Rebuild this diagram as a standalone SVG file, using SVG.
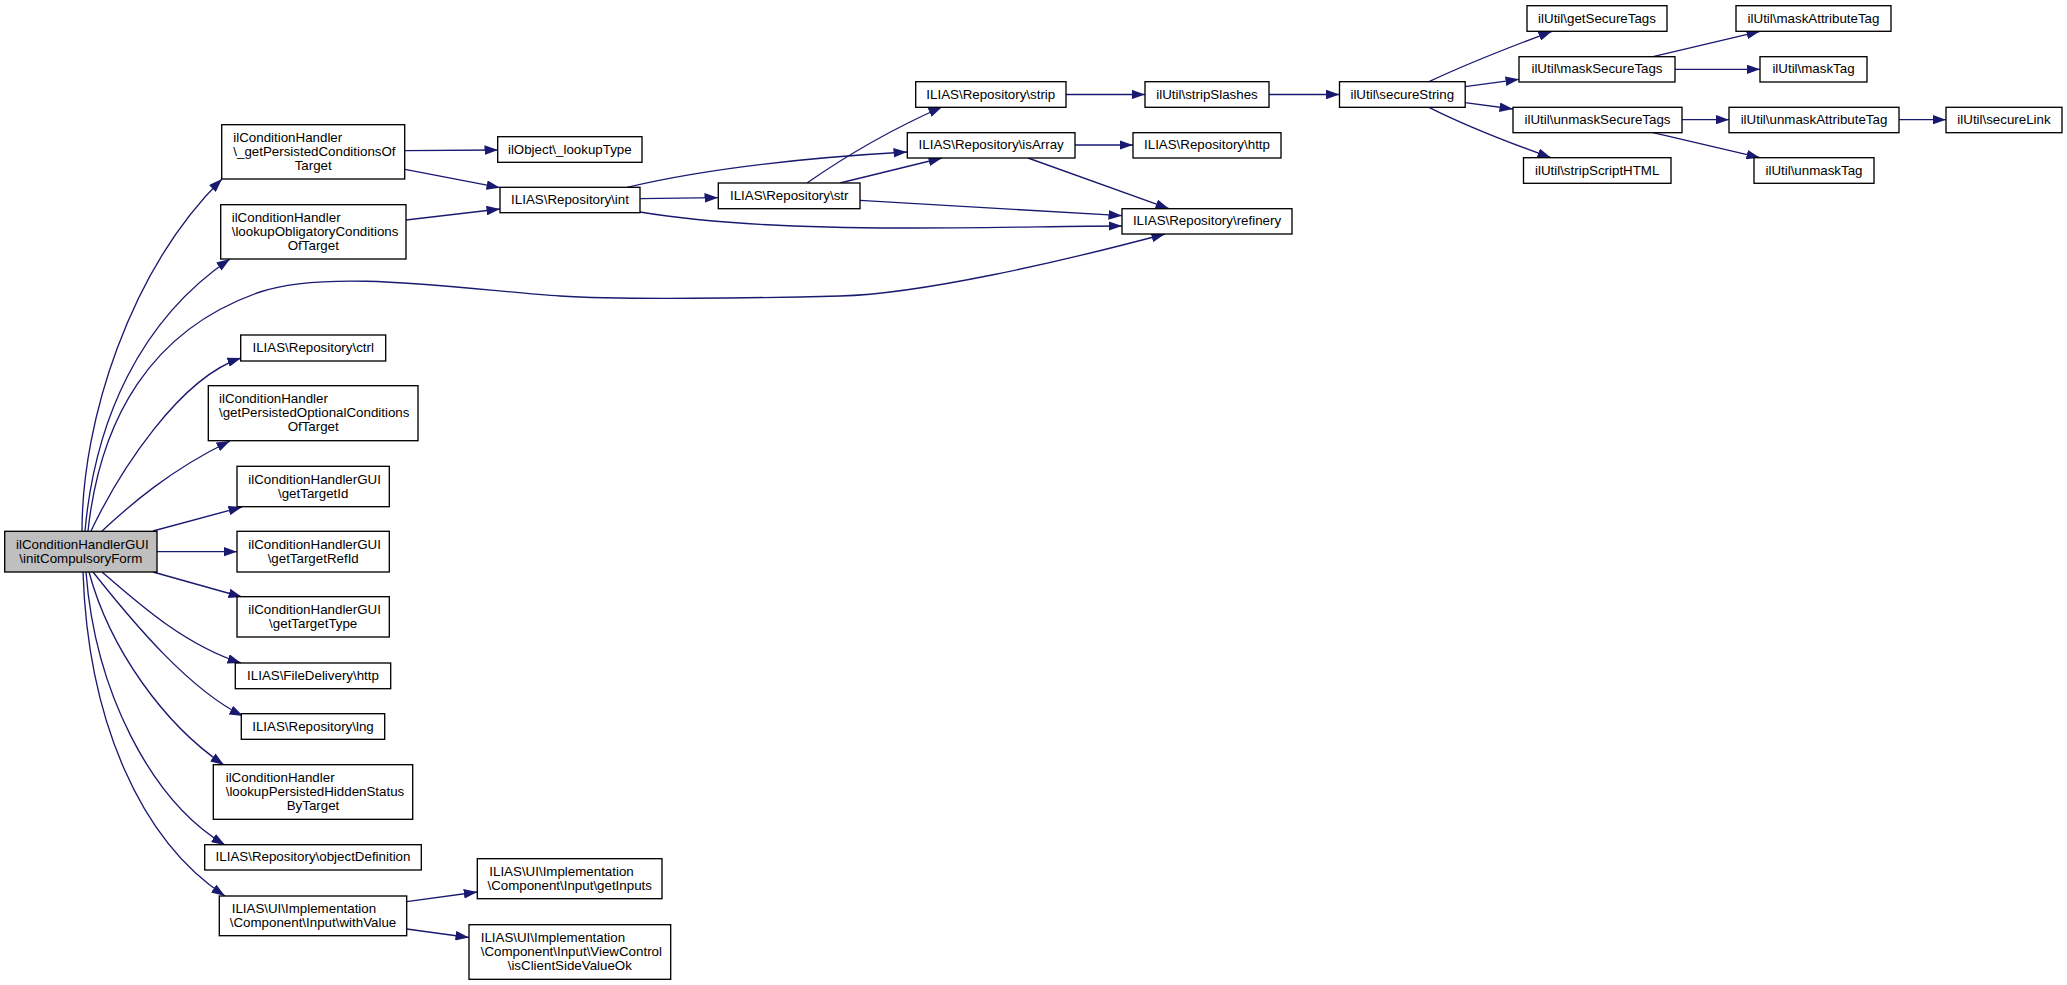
<svg xmlns="http://www.w3.org/2000/svg" width="2067" height="985" viewBox="0 0 2067 985">
<style>
.n rect{fill:#ffffff;stroke:#000000;stroke-width:1.33}
.n.main rect{fill:#bfbfbf}
.n text{font-family:"Liberation Sans",Arial,Helvetica,sans-serif;font-size:13.33px;fill:#000000}
.c{text-anchor:middle}
#edges path{fill:none;stroke:#191970;stroke-width:1.33;marker-end:url(#ah)}
</style>
<defs>
<marker id="ah" viewBox="0 0 13.5 9.6" refX="13.5" refY="4.8" markerWidth="13.5" markerHeight="9.6" markerUnits="userSpaceOnUse" orient="auto">
<path d="M0,0 L13.5,4.8 L0,9.6 z" fill="#191970"/>
</marker>
</defs>
<rect width="2067" height="985" fill="#ffffff"/>
<g id="edges">
<path d="M82,531 C82,420 130,270 222,179"/>
<path d="M85,531 C95,420 140,320 230,259"/>
<path d="M88,531 C100,420 150,330 260,292 C330,268 470,290 560,296 C620,300 760,298 840,296 C920,294 1060,262 1165,234"/>
<path d="M91,531 C120,470 180,378 241,358"/>
<path d="M102,531 C130,505 170,470 230,441"/>
<path d="M153,531 L242,507"/>
<path d="M157,551.7 L237,551.7"/>
<path d="M153,572 L242,597"/>
<path d="M102,572 C140,605 185,645 241,663"/>
<path d="M93,572 C135,625 190,690 243,716"/>
<path d="M89,572 C110,650 165,725 224,765"/>
<path d="M86,572 C95,690 150,800 225,845"/>
<path d="M83,572 C88,720 140,840 225,896"/>
<path d="M405,150.7 L498,150"/>
<path d="M405,169.3 L500,187.7"/>
<path d="M406,220 L500,209"/>
<path d="M627,187.3 C700,170 800,158 907,152"/>
<path d="M640,198.7 L718,197.7"/>
<path d="M640,212 C700,222 780,228 900,228 C1000,228 1060,226 1122,226"/>
<path d="M807,183 C840,160 890,130 942,107"/>
<path d="M840,183 L942,158"/>
<path d="M860,200.3 L1122,215.7"/>
<path d="M1066,94.5 L1145,94.5"/>
<path d="M1269,94.5 L1339.5,94.5"/>
<path d="M1075,145 L1133,145"/>
<path d="M1028,158 L1169,208.7"/>
<path d="M1429,81.7 C1460,67 1510,47 1552,31.3"/>
<path d="M1465,86.7 L1519,79.3"/>
<path d="M1465,102.7 L1513,109"/>
<path d="M1429,107.3 C1460,123 1510,143 1551,157.7"/>
<path d="M1653,56.7 L1760,31.3"/>
<path d="M1675,69.3 L1760,69.3"/>
<path d="M1682,119.7 L1729,119.7"/>
<path d="M1653,132.7 L1760,157.7"/>
<path d="M1899,119.7 L1946,119.7"/>
<path d="M406.7,901.7 L477.3,892"/>
<path d="M406.7,929 L469,937.5"/>
</g>
<g id="n_main" class="n main"><rect x="4.7" y="531.3" width="152.3" height="40.7"/><text x="16" y="548.7">ilConditionHandlerGUI</text><text class="c" x="80.8" y="562.7">\initCompulsoryForm</text></g>
<g id="n_getPersistedConditions" class="n"><rect x="221.7" y="124.7" width="183" height="54.3"/><text x="233.3" y="142">ilConditionHandler</text><text x="233.3" y="156">\_getPersistedConditionsOf</text><text class="c" x="313.2" y="170">Target</text></g>
<g id="n_lookupObligatory" class="n"><rect x="220.7" y="204.7" width="185.3" height="54.3"/><text x="231.7" y="222">ilConditionHandler</text><text x="231.7" y="236">\lookupObligatoryConditions</text><text class="c" x="313.3" y="250">OfTarget</text></g>
<g id="n_ctrl" class="n"><rect x="240.7" y="335" width="145" height="26"/><text class="c" x="313.2" y="352">ILIAS\Repository\ctrl</text></g>
<g id="n_getPersistedOptional" class="n"><rect x="208.3" y="385.7" width="209.7" height="55"/><text x="219" y="403.2">ilConditionHandler</text><text x="219" y="417.2">\getPersistedOptionalConditions</text><text class="c" x="313.2" y="431.2">OfTarget</text></g>
<g id="n_getTargetId" class="n"><rect x="237" y="466.3" width="152.3" height="40.4"/><text x="248.3" y="483.5">ilConditionHandlerGUI</text><text class="c" x="313.2" y="497.5">\getTargetId</text></g>
<g id="n_getTargetRefId" class="n"><rect x="237" y="531.3" width="152.3" height="40.7"/><text x="248.3" y="548.7">ilConditionHandlerGUI</text><text class="c" x="313.2" y="562.7">\getTargetRefId</text></g>
<g id="n_getTargetType" class="n"><rect x="237" y="596.7" width="152.3" height="40.3"/><text x="248.3" y="613.8">ilConditionHandlerGUI</text><text class="c" x="313.2" y="627.8">\getTargetType</text></g>
<g id="n_fileDeliveryHttp" class="n"><rect x="235.3" y="663" width="155.4" height="25.7"/><text class="c" x="313" y="680">ILIAS\FileDelivery\http</text></g>
<g id="n_lng" class="n"><rect x="241.3" y="713.7" width="143.4" height="25.6"/><text class="c" x="313" y="730.5">ILIAS\Repository\lng</text></g>
<g id="n_lookupPersistedHidden" class="n"><rect x="213.3" y="764.7" width="199.4" height="54.6"/><text x="225.7" y="782">ilConditionHandler</text><text x="225.7" y="796">\lookupPersistedHiddenStatus</text><text class="c" x="313" y="810">ByTarget</text></g>
<g id="n_objectDefinition" class="n"><rect x="204.7" y="844.7" width="216.6" height="25.3"/><text class="c" x="313" y="861.4">ILIAS\Repository\objectDefinition</text></g>
<g id="n_withValue" class="n"><rect x="219.3" y="896" width="187.4" height="39.7"/><text x="231.7" y="912.8">ILIAS\UI\Implementation</text><text class="c" x="313" y="926.8">\Component\Input\withValue</text></g>
<g id="n_getInputs" class="n"><rect x="477.3" y="858.7" width="184.7" height="40"/><text x="489.3" y="875.7">ILIAS\UI\Implementation</text><text class="c" x="569.7" y="889.7">\Component\Input\getInputs</text></g>
<g id="n_isClientSideValueOk" class="n"><rect x="469" y="924.7" width="201.7" height="54.6"/><text x="480.7" y="942">ILIAS\UI\Implementation</text><text x="480.7" y="956">\Component\Input\ViewControl</text><text class="c" x="569.8" y="970">\isClientSideValueOk</text></g>
<g id="n_lookupType" class="n"><rect x="497.7" y="136.7" width="144.3" height="25.6"/><text class="c" x="569.8" y="153.5">ilObject\_lookupType</text></g>
<g id="n_int" class="n"><rect x="500" y="187.3" width="140" height="25.4"/><text class="c" x="570" y="204">ILIAS\Repository\int</text></g>
<g id="n_str" class="n"><rect x="718.3" y="183" width="141.7" height="25.7"/><text class="c" x="789.2" y="199.8">ILIAS\Repository\str</text></g>
<g id="n_strip" class="n"><rect x="915.7" y="81.7" width="150.3" height="25.6"/><text class="c" x="990.8" y="98.5">ILIAS\Repository\strip</text></g>
<g id="n_isArray" class="n"><rect x="907.3" y="132.7" width="167.7" height="25.3"/><text class="c" x="991.2" y="149.3">ILIAS\Repository\isArray</text></g>
<g id="n_repoHttp" class="n"><rect x="1133" y="132.7" width="148" height="25.3"/><text class="c" x="1207" y="149.3">ILIAS\Repository\http</text></g>
<g id="n_refinery" class="n"><rect x="1122" y="208.7" width="170" height="25.3"/><text class="c" x="1207" y="225.3">ILIAS\Repository\refinery</text></g>
<g id="n_stripSlashes" class="n"><rect x="1145" y="81.7" width="124" height="25.6"/><text class="c" x="1207" y="98.5">ilUtil\stripSlashes</text></g>
<g id="n_secureString" class="n"><rect x="1339.5" y="81.7" width="125.7" height="25.6"/><text class="c" x="1402.3" y="98.5">ilUtil\secureString</text></g>
<g id="n_getSecureTags" class="n"><rect x="1527" y="5.7" width="140" height="25.6"/><text class="c" x="1597" y="22.5">ilUtil\getSecureTags</text></g>
<g id="n_maskSecureTags" class="n"><rect x="1519" y="56.7" width="156" height="25.3"/><text class="c" x="1597" y="73.3">ilUtil\maskSecureTags</text></g>
<g id="n_unmaskSecureTags" class="n"><rect x="1513" y="107.3" width="169" height="25.4"/><text class="c" x="1597.5" y="124">ilUtil\unmaskSecureTags</text></g>
<g id="n_stripScriptHTML" class="n"><rect x="1523.5" y="157.7" width="147.5" height="25.6"/><text class="c" x="1597.2" y="174.5">ilUtil\stripScriptHTML</text></g>
<g id="n_maskAttributeTag" class="n"><rect x="1736" y="5.7" width="155" height="25.6"/><text class="c" x="1813.5" y="22.5">ilUtil\maskAttributeTag</text></g>
<g id="n_maskTag" class="n"><rect x="1760" y="56.7" width="107" height="25.3"/><text class="c" x="1813.5" y="73.3">ilUtil\maskTag</text></g>
<g id="n_unmaskAttributeTag" class="n"><rect x="1729" y="107.3" width="170" height="25.4"/><text class="c" x="1814" y="124">ilUtil\unmaskAttributeTag</text></g>
<g id="n_unmaskTag" class="n"><rect x="1754" y="157.7" width="120" height="25.6"/><text class="c" x="1814" y="174.5">ilUtil\unmaskTag</text></g>
<g id="n_secureLink" class="n"><rect x="1946" y="107.3" width="116" height="25.4"/><text class="c" x="2004" y="124">ilUtil\secureLink</text></g>
</svg>
